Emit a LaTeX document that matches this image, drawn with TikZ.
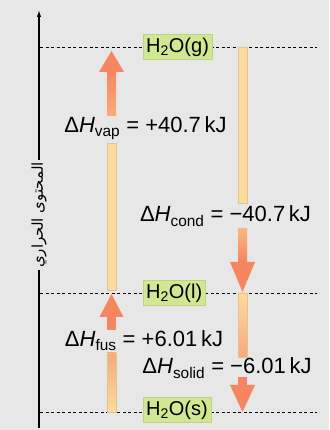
\documentclass[tikz,border=0pt]{standalone}
\usepackage{fontspec}
\setmainfont{Liberation Sans}
\newfontfamily\arabicfont[Script=Arabic]{DejaVu Sans}
\TeXXeTstate=1
\usetikzlibrary{arrows.meta,calc}

\definecolor{bggray}{RGB}{231,231,231}
\definecolor{boxgreen}{RGB}{210,231,146}
\definecolor{boxedge}{RGB}{190,210,130}
\definecolor{paleshaft}{RGB}{253,220,155}
\definecolor{shaftedge}{RGB}{222,196,150}
\definecolor{hotarrow}{RGB}{246,134,96}

\newcommand{\bigfont}{\fontsize{20}{24}\selectfont}
\newcommand{\eqfont}{\fontsize{22}{26}\selectfont}
\newcommand{\enth}[1]{Δ\textit{H}\textsubscript{#1}}

\begin{document}
\begin{tikzpicture}[x=1pt, y=1pt,
  state/.style={fill=boxgreen, draw=boxedge, line width=0.4pt, inner xsep=3pt, inner ysep=3pt, anchor=west, font=\bigfont},
  change/.style={anchor=base, inner sep=0pt, font=\eqfont},
  level/.style={dash pattern=on 3pt off 2.5pt, line width=0.7pt},
  bar/.style={draw=shaftedge, line width=0.3pt},
  head/.style={fill=hotarrow}]

\fill[bggray] (0,0) rectangle (329,430);
\useasboundingbox (0,0) rectangle (329,430);

% columns and level heights
\coordinate (axis) at (40,0);
\coordinate (rim) at (317,0);
\coordinate (up) at (111.5,0);
\coordinate (down) at (242.5,0);
\coordinate (gas) at (0,383);
\coordinate (liq) at (0,137);
\coordinate (sol) at (0,18);
\coordinate (axis top) at (39,420);
\coordinate (axis foot) at (39,2);

% enthalpy axis
\node (enthalpy) at (39,215) [rotate=90, inner sep=2pt, font=\arabicfont\fontsize{15}{17}\selectfont] {\beginR المحتوى الحراري\endR};
\draw[line width=1.3pt] (axis foot) -- (enthalpy.west);
\draw[line width=1.3pt, -{Latex[length=7pt,width=4.5pt]}] (enthalpy.east) -- (axis top);

\draw[level] (axis |- gas) -- (rim |- gas);
\draw[level] (axis |- liq) -- (rim |- liq);
\draw[level] (axis |- sol) -- (rim |- sol);

\node[state] (g) at (143,383) {H\textsubscript{2}O(g)};
\node[state] (l) at (143,137) {H\textsubscript{2}O(l)};
\node[state] (s) at (143,20) {H\textsubscript{2}O(s)};

\node[change] (vap) at (145.5,297) {\enth{vap} = +40.7\,kJ};
\node[change] (cond) at (225.5,208) {\enth{cond} = −40.7\,kJ};
\node[change] (fus) at (144,83) {\enth{fus} = +6.01\,kJ};
\node[change] (solid) at (227,56) {\enth{solid} = −6.01\,kJ};

% liquid -> gas
\filldraw[bar, fill=paleshaft] ($(up |- liq)+(-4.5,3)$) rectangle ($(up |- vap.base)+(4.5,-10)$);
\shade[top color=hotarrow, bottom color=hotarrow!55!paleshaft] ($(up |- vap.base)+(-4.5,17)$) rectangle ($(up |- gas)+(4.5,-25)$);
\fill[head] ($(up |- gas)+(-12.5,-25)$) -- ($(up |- gas)+(0,-4)$) -- ($(up |- gas)+(12.5,-25)$) -- cycle;

% gas -> liquid
\filldraw[bar, fill=paleshaft] ($(down |- gas)+(-4.5,0)$) rectangle ($(down |- cond.base)+(4.5,19)$);
\shade[top color=hotarrow!45!paleshaft, bottom color=hotarrow] ($(down |- cond.base)+(-4.5,-7)$) rectangle ($(down |- liq)+(4.5,31)$);
\fill[head] ($(down |- liq)+(-12.5,31)$) -- ($(down |- liq)+(0,1)$) -- ($(down |- liq)+(12.5,31)$) -- cycle;

% solid -> liquid
\shadedraw[bar, top color=hotarrow!60!paleshaft, bottom color=paleshaft] ($(up |- sol)+(-4.5,0)$) rectangle ($(up |- fus.base)+(4.5,-6)$);
\fill[hotarrow] ($(up |- fus.base)+(-4.5,17)$) rectangle ($(up |- liq)+(4.5,-24)$);
\fill[head] ($(up |- liq)+(-12,-24)$) -- ($(up |- liq)+(0,-1)$) -- ($(up |- liq)+(12,-24)$) -- cycle;

% liquid -> solid
\shadedraw[bar, top color=paleshaft, bottom color=hotarrow!60!paleshaft] ($(down |- liq)+(-4.5,0)$) rectangle ($(down |- solid.base)+(4.5,17)$);
\fill[hotarrow] ($(down |- solid.base)+(-4.5,-3)$) rectangle ($(down |- sol)+(4.5,27)$);
\fill[head] ($(down |- sol)+(-12.5,27)$) -- (down |- sol) -- ($(down |- sol)+(12.5,27)$) -- cycle;

\end{tikzpicture}
\end{document}
